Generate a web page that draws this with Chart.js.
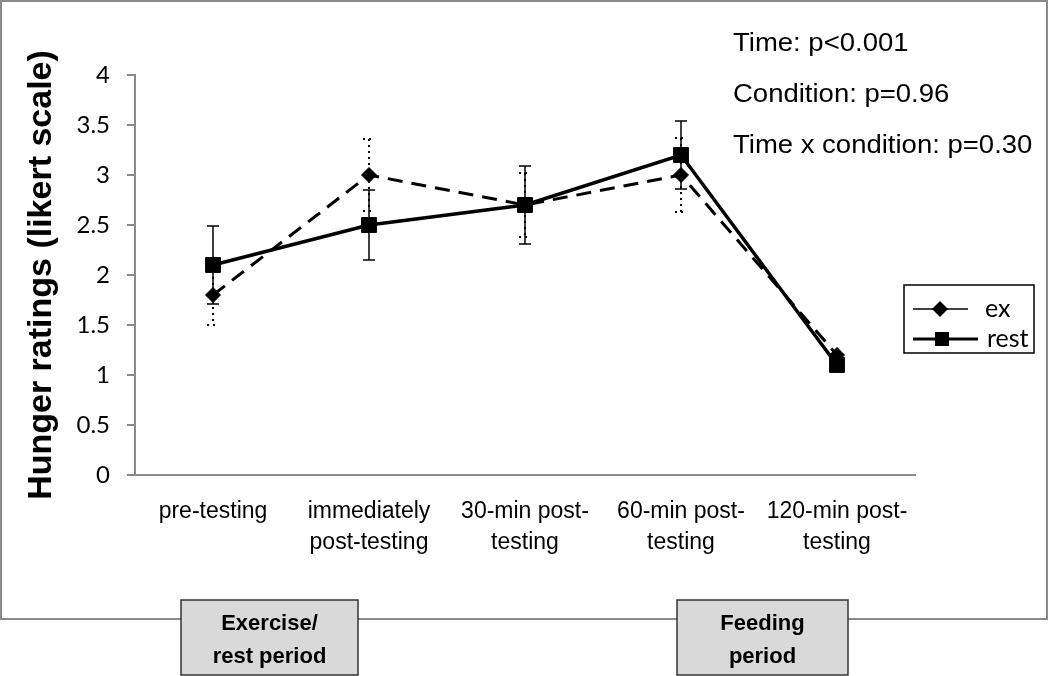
<!DOCTYPE html>
<html>
<head>
<meta charset="utf-8">
<script src="https://cdn.jsdelivr.net/npm/chart.js@4.4.1/dist/chart.umd.min.js"></script>
<style>
    html, body { margin: 0; padding: 0; background: #fff; }
    canvas { display: block; }
</style>
</head>
<body>
<canvas id="chart" width="1050" height="676"></canvas>
<script>
// data
const timepoints = ['pre-testing', ['immediately', 'post-testing'], ['30-min post-', 'testing'], ['60-min post-', 'testing'], ['120-min post-', 'testing']];
const exMeans = [1.8, 3.0, 2.7, 3.0, 1.2];
const exErrors = [0.3, 0.36, 0.32, 0.37, 0.05];
const restMeans = [2.1, 2.5, 2.7, 3.2, 1.1];
const restErrors = [0.39, 0.35, 0.39, 0.34, 0.05];
const seriesNames = ['ex', 'rest'];
const statLines = ['Time: p<0.001', 'Condition: p=0.96', 'Time x condition: p=0.30'];
const periodLabels = [['Exercise/', 'rest period'], ['Feeding', 'period']];

const errorsByDataset = [exErrors, restErrors];

// error bars, drawn under the markers
const errorBars = {
    id: 'errorBars',
    beforeDatasetsDraw(chart) {
        const ctx = chart.ctx;
        const y = chart.scales.y;
        chart.data.datasets.forEach((ds, i) => {
            const meta = chart.getDatasetMeta(i);
            const errs = errorsByDataset[i];
            ctx.save();
            ctx.strokeStyle = '#000';
            ctx.lineWidth = i === 0 ? 2 : 1.5;
            ctx.setLineDash(i === 0 ? [2, 4] : []);
            meta.data.forEach((pt, j) => {
                const top = y.getPixelForValue(ds.data[j] + errs[j]);
                const bot = y.getPixelForValue(ds.data[j] - errs[j]);
                ctx.beginPath();
                ctx.moveTo(pt.x, top); ctx.lineTo(pt.x, bot);
                ctx.moveTo(pt.x - 6, top); ctx.lineTo(pt.x + 6, top);
                ctx.moveTo(pt.x - 6, bot); ctx.lineTo(pt.x + 6, bot);
                ctx.stroke();
            });
            ctx.restore();
        });
    },
};

// frame, stats text, legend and the period boxes
const decorations = {
    id: 'decorations',
    beforeDraw(chart) {
        const ctx = chart.ctx;
        ctx.save();
        ctx.fillStyle = '#fff';
        ctx.fillRect(0, 0, chart.width, chart.height);
        ctx.strokeStyle = '#8a8a8a';
        ctx.lineWidth = 2;
        ctx.strokeRect(1, 1, 1046, 618);
        ctx.restore();
    },
    afterDraw(chart) {
        const ctx = chart.ctx;
        ctx.save();

        // stats
        ctx.fillStyle = '#000';
        ctx.font = '25px "Liberation Sans", Arial, sans-serif';
        ctx.textBaseline = 'alphabetic';
        statLines.forEach((t, i) => {
            ctx.save();
            ctx.translate(733, 51 + i * 51);
            ctx.scale(1.1, 1);
            ctx.fillText(t, 0, 0);
            ctx.restore();
        });

        // legend
        ctx.strokeStyle = '#000';
        ctx.lineWidth = 1.5;
        ctx.strokeRect(904, 285, 130, 68);
        ctx.beginPath();
        ctx.lineWidth = 1.5;
        ctx.moveTo(913, 309); ctx.lineTo(968, 309);
        ctx.stroke();
        ctx.beginPath();
        ctx.moveTo(940, 301); ctx.lineTo(948, 309); ctx.lineTo(940, 317); ctx.lineTo(932, 309);
        ctx.closePath(); ctx.fill();
        ctx.beginPath();
        ctx.lineWidth = 3;
        ctx.moveTo(913, 339); ctx.lineTo(978, 339);
        ctx.stroke();
        ctx.fillRect(935, 332, 14, 14);
        ctx.font = '25px Lato, "Open Sans", sans-serif';
        ctx.fillText(seriesNames[0], 985, 317);
        ctx.fillText(seriesNames[1], 987, 347);

        // period boxes
        const boxes = [[181, 177], [677, 171]];
        boxes.forEach(([x, w], i) => {
            ctx.fillStyle = '#d9d9d9';
            ctx.fillRect(x, 600, w, 75);
            ctx.strokeStyle = '#333';
            ctx.lineWidth = 1.5;
            ctx.strokeRect(x, 600, w, 75);
            ctx.fillStyle = '#000';
            ctx.font = 'bold 22px "Liberation Sans", Arial, sans-serif';
            ctx.textAlign = 'center';
            ctx.fillText(periodLabels[i][0], x + w / 2, 630);
            ctx.fillText(periodLabels[i][1], x + w / 2, 663);
        });
        ctx.restore();
    },
};

new Chart(document.getElementById('chart'), {
    type: 'line',
    data: {
        labels: timepoints,
        datasets: [
            {
                label: seriesNames[0],
                data: exMeans,
                borderColor: '#000',
                borderWidth: 3,
                borderDash: [15, 9],
                pointStyle: 'rectRot',
                pointRadius: 7.5,
                pointBackgroundColor: '#000',
                pointBorderColor: '#000',
                pointBorderWidth: 1,
                tension: 0,
            },
            {
                label: seriesNames[1],
                data: restMeans,
                borderColor: '#000',
                borderWidth: 3.5,
                pointStyle: 'rect',
                pointRadius: 10.5,
                pointBackgroundColor: '#000',
                pointBorderColor: '#000',
                pointBorderWidth: 1,
                tension: 0,
            },
        ],
    },
    options: {
        responsive: false,
        animation: false,
        devicePixelRatio: 1,
        layout: { padding: { top: 75, right: 135, left: 0, bottom: 0 } },
        plugins: { legend: { display: false }, tooltip: { enabled: false } },
        scales: {
            x: {
                offset: true,
                afterFit: s => { s.height = 201; },
                grid: { display: false, drawTicks: false },
                border: { display: true, color: '#8a8a8a', width: 2 },
                ticks: {
                    color: '#000',
                    padding: 21,
                    maxRotation: 0,
                    autoSkip: false,
                    font: { family: '"Liberation Sans", Arial, sans-serif', size: 23, lineHeight: 1.35 },
                },
            },
            y: {
                min: 0,
                max: 4,
                afterFit: s => { s.width = 135; },
                grid: { drawOnChartArea: false, drawTicks: true, tickLength: 8, color: '#8a8a8a', lineWidth: 2 },
                border: { display: true, color: '#8a8a8a', width: 2 },
                ticks: {
                    stepSize: 0.5,
                    color: '#000',
                    padding: 17,
                    font: { family: 'Lato, "Open Sans", sans-serif', size: 24 },
                    callback: v => String(v),
                },
                title: {
                    display: true,
                    text: 'Hunger ratings (likert scale)',
                    color: '#000',
                    padding: { top: 21, bottom: 0 },
                    font: { family: '"Liberation Sans", Arial, sans-serif', size: 34, weight: 'bold' },
                },
            },
        },
    },
    plugins: [decorations, errorBars],
});
</script>
</body>
</html>
